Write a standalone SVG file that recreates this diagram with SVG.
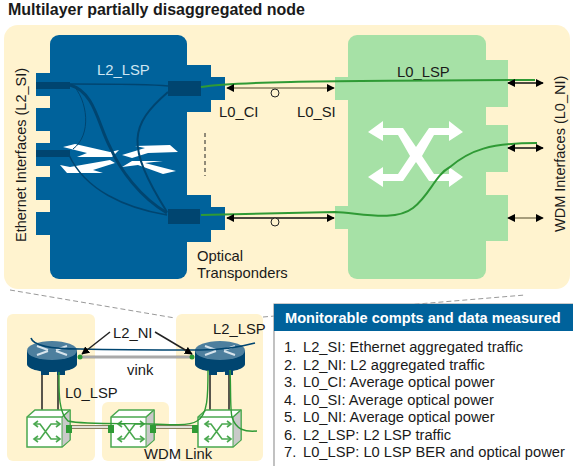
<svg xmlns="http://www.w3.org/2000/svg" width="573" height="466" viewBox="0 0 573 466">
<style>
text{font-family:"Liberation Sans",Arial,sans-serif;font-size:14.8px;fill:#1a1a1a}
.v{font-size:14.5px}
.li{font-size:14.7px}
.w{fill:#fff}
.blue{fill:#00629b}
.dark{fill:#004570}
.lg{fill:#a6e1a6}
.cream{fill:#fff3cf}
.gl{fill:none;stroke:#2f9a35;stroke-width:2}
.lsp{fill:none;stroke:#004570}
.dbl{stroke:#111;stroke-width:1.3;fill:none}
.sh{stroke:#8a8060;stroke-width:1.5;fill:none}
.swa{fill:none;stroke:#4aa84f;stroke-width:1.6}
.conn{stroke:#222;stroke-width:1.5;fill:none}
.dash{stroke:#999;stroke-width:1;stroke-dasharray:5 3;fill:none}
</style>
<defs>
<marker id="ah" viewBox="0 0 10 10" refX="9" refY="5" markerWidth="8" markerHeight="8" orient="auto-start-reverse" markerUnits="userSpaceOnUse"><path d="M0 0L10 5L0 10Z" fill="#000"/></marker>
<g id="switch">
<path d="M0 7L8 0H43V30L35 37H0Z" fill="#fff" stroke="#4aa84f" stroke-width="1.5"/>
<path d="M43 0V30L35 37V7Z" fill="#c9c9c9" stroke="#4aa84f" stroke-width="1"/>
<path d="M0 7H35L43 0" fill="none" stroke="#4aa84f" stroke-width="1.5"/>
<path d="M8 14H13L24 29H32M8 29H13L24 14H32" class="swa"/>
<path d="M11 11L7 14L11 17M11 26L7 29L11 32M29 11L33 14L29 17M29 26L33 29L29 32" class="swa"/>
</g>
<g id="router">
<path d="M0 10V23C0 28 12 31 25 31C38 31 50 28 50 23V10Z" fill="#004570"/>
<ellipse cx="25" cy="9.5" rx="25" ry="9.5" fill="#4d7f9e"/>
<path d="M10 5L21 9M10 14L21 10M40 5L29 9M40 14L29 10" stroke="#d7e4ec" stroke-width="2" fill="none"/>
<path d="M14 30H22V34H14ZM30 30H38V34H30Z" fill="#004570"/>
</g>
</defs>
<rect width="573" height="466" fill="#fff"/>
<text x="8" y="15" style="font-weight:700;font-size:16px">Multilayer partially disaggregated node</text>
<rect x="4" y="25" width="566" height="264" rx="14" class="cream"/>

<g id="l2-node">
<rect x="50" y="35" width="137" height="244" rx="9" class="blue"/>
<path d="M36 73H50V96H36ZM36 108H50V131H36ZM36 143H50V166H36ZM36 177H50V200H36ZM36 212H50V235H36Z" class="blue"/>
<path d="M187 65H211V77H225V100H211V112H187ZM187 195H211V207H225V230H211V242H187Z" class="blue"/>
<path d="M36 82H70V89H36ZM36 150H70V157H36ZM168 81H201V96H168ZM168 209H200V224H168Z" class="dark"/>
<g id="l2-switch-arrows" class="w">
<path d="M63 147L75 144L110 152L119 150L112 157L77 157L87 153Z"/>
<path d="M60 165L70 167L110 160L115 163L93 170L103 173L67 173Z"/>
<path d="M122 155L145 148L135 146L170 145L178 152L148 153L132 158Z"/>
<path d="M122 167L132 161H163L145 163L176 171L163 174L138 165Z"/>
</g>
<path d="M70 84C110 84 150 84 168 86" class="lsp" stroke-width="1.5"/>
<path d="M70 85C95 92 98 125 110 147C120 170 140 197 167 213" class="lsp" stroke-width="3"/>
<path d="M72 84C88 100 92 135 73 149" class="lsp" stroke-width="1"/>
<path d="M69 155C85 190 125 208 167 215" class="lsp" stroke-width="1.5"/>
<path d="M168 92C130 125 125 145 167 212" class="lsp" stroke-width="2"/>
<text x="97" y="75" style="fill:#cfe6f2">L2_LSP</text>
<text class="v" transform="translate(26,242) rotate(-90)">Ethernet Interfaces (L2_SI)</text>
</g>

<g id="l0-node">
<rect x="348" y="35" width="138" height="244" rx="9" class="lg"/>
<path d="M335 77H348V100H335ZM335 206H348V229H335Z" class="lg"/>
<path d="M486 60H508V107H486ZM486 125H508V172H486ZM486 195H508V241H486Z" class="lg"/>
<path d="M368 132L383 121V128H403L416 147L429 128H449V121L463 132L449 141V135H434L422 156L434 174H449V167L463 177L449 187V181H429L416 162L403 181H383V187L368 177L383 167V174H398L410 156L398 135H383V141Z" fill="#fff"/>
<text x="397" y="77">L0_LSP</text>
<text class="v" transform="translate(565,232) rotate(-90)">WDM Interfaces (L0_NI)</text>
</g>

<g id="connectors">
<path d="M201 87C230 82 300 81 535 80" class="gl"/>
<path d="M201 215L335 212C360 213 395 222 413 208C430 195 435 175 450 167C470 150 490 143 537 143" class="gl"/>
<path d="M227 88H334" class="sh" marker-start="url(#ah)" marker-end="url(#ah)"/>
<path d="M227 218H334" class="dbl" marker-start="url(#ah)" marker-end="url(#ah)"/>
<path d="M508 83H543" class="dbl" marker-start="url(#ah)" marker-end="url(#ah)"/>
<path d="M508 148H543" class="dbl" marker-start="url(#ah)" marker-end="url(#ah)"/>
<path d="M508 218H543" class="sh" marker-start="url(#ah)" marker-end="url(#ah)"/>
<circle cx="275" cy="93" r="4" fill="#fff3cf" stroke="#222"/>
<circle cx="275" cy="222" r="4" fill="#fff3cf" stroke="#222"/>
<path d="M205 133V176" stroke="#222" stroke-dasharray="4 3" fill="none"/>
<path d="M10 290L175 318M263 317L525 295" class="dash"/>
</g>
<text x="219" y="117">L0_CI</text>
<text x="297" y="117">L0_SI</text>
<text x="197" y="261">Optical</text>
<text x="197" y="278">Transponders</text>

<g id="network">
<rect x="7" y="314" width="88" height="147" rx="6" class="cream"/>
<rect x="102" y="402" width="67" height="59" rx="6" class="cream"/>
<rect x="176" y="314" width="87" height="147" rx="6" class="cream"/>
<path d="M42 372V410M58 372V410M210 372V410M229 372V410" class="conn"/>
<path d="M69 427H110M153 427H194" stroke="#8a8060" stroke-width="4" fill="none"/>
<path d="M69 427H110M153 427H194" stroke="#fff" stroke-width="1.5" fill="none"/>
<use href="#router" x="27" y="341"/>
<use href="#router" x="195" y="341"/>
<use href="#switch" x="27" y="410"/>
<use href="#switch" x="111" y="410"/>
<use href="#switch" x="198" y="410"/>
<path d="M66 425H72V433H66ZM108 425H114V433H108ZM150 425H156V433H150ZM192 425H198V433H192Z" fill="#2f9a35"/>
<path d="M80 357H192" stroke="#555" stroke-width="2.5" fill="none"/>
<path d="M80 357H192" stroke="#fff" stroke-width="1" fill="none"/>
<circle cx="80" cy="357" r="2.5" fill="#2f9a35"/>
<circle cx="192" cy="357" r="2.5" fill="#2f9a35"/>
<path d="M31 338C33 345 50 349 80 349C120 350 170 350 200 350C225 350 240 347 255 343" class="lsp" stroke-width="1.6"/>
<path d="M59 372C59 390 58 412 68 421C85 425 130 423 150 424C170 425 190 426 197 421C208 415 208 395 208 370" fill="none" stroke="#2f9a35" stroke-width="1.4"/>
<path d="M230 370C231 390 230 410 232 417C236 430 245 432 257 431" fill="none" stroke="#2f9a35" stroke-width="1.4"/>
<path d="M110 332L82 354" class="conn" marker-end="url(#ah)" stroke-width="1"/>
<path d="M155 332L192 354" class="conn" marker-end="url(#ah)" stroke-width="1"/>
<text x="113" y="338">L2_NI</text>
<text x="213" y="334">L2_LSP</text>
<text x="127" y="375">vink</text>
<text x="65" y="398">L0_LSP</text>
<text x="144" y="459">WDM Link</text>
</g>

<g id="table">
<rect x="274" y="304" width="299" height="162" fill="#fff"/>
<path d="M274 466V304H573" fill="none" stroke="#999" stroke-width="1.2"/>
<rect x="274" y="304" width="299" height="27" class="blue"/>
<text x="285" y="323" style="font-weight:700;font-size:14.6px;fill:#fff">Monitorable compts and data measured</text>
<text class="li" x="284" y="352">1.</text><text class="li" x="303" y="352">L2_SI: Ethernet aggregated traffic</text>
<text class="li" x="284" y="370">2.</text><text class="li" x="303" y="370">L2_NI: L2 aggregated traffic</text>
<text class="li" x="284" y="387">3.</text><text class="li" x="303" y="387">L0_CI: Average optical power</text>
<text class="li" x="284" y="405">4.</text><text class="li" x="303" y="405">L0_SI: Average optical power</text>
<text class="li" x="284" y="422">5.</text><text class="li" x="303" y="422">L0_NI: Average optical power</text>
<text class="li" x="284" y="440">6.</text><text class="li" x="303" y="440">L2_LSP: L2 LSP traffic</text>
<text class="li" x="284" y="457">7.</text><text class="li" x="303" y="457">L0_LSP: L0 LSP BER and optical power</text>
</g>
</svg>
